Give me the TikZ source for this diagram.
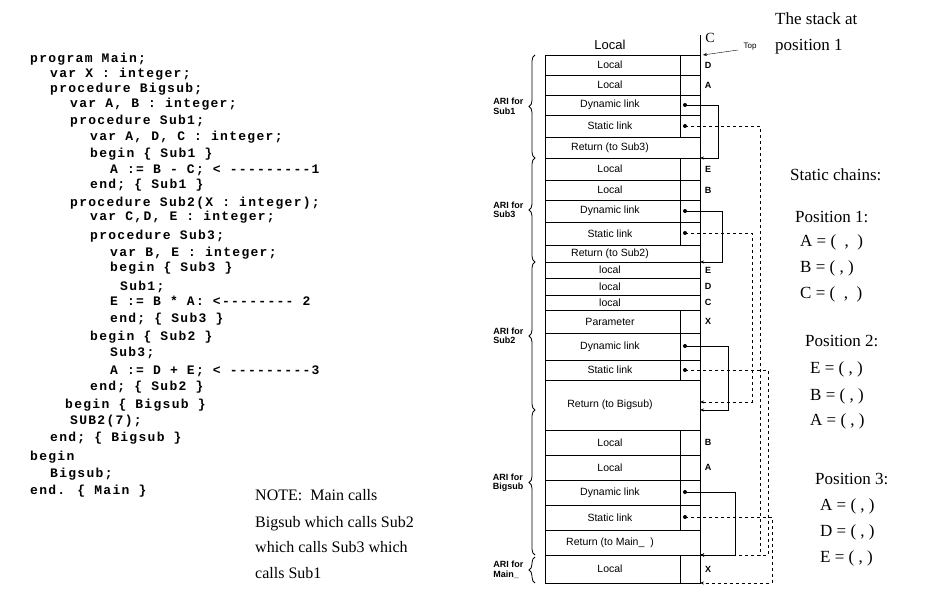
\documentclass[tikz,border=0pt]{standalone}
\usepackage{fontspec}
\setmainfont{Liberation Serif}
\newfontfamily\codefont[LetterSpace=10]{Liberation Mono}
\newfontfamily\stk{Liberation Sans}
\usetikzlibrary{decorations.pathreplacing,arrows.meta}
\begin{document}
\begin{tikzpicture}[x=1pt,y=-1pt,
 code/.style={anchor=base west,inner sep=0,font=\codefont\bfseries\fontsize{13}{13}\selectfont},
 note/.style={anchor=base west,inner sep=0,font=\fontsize{16}{16}\selectfont},
 cell/.style={font=\stk\fontsize{10.5}{10.5}\selectfont},
 var/.style={font=\stk\bfseries\fontsize{9}{9}\selectfont},
 ari/.style={font=\stk\bfseries\fontsize{9}{9.5}\selectfont,align=left},
 postxt/.style={anchor=base west,inner sep=0,font=\fontsize{17}{17}\selectfont},
 dyn/.style={thick,-{Stealth[length=4pt]}},
 stat/.style={thick,dashed,-{Stealth[length=4pt]}},
 brc/.style={decorate,decoration={brace,amplitude=6pt,mirror},thick}]
\useasboundingbox[fill=white] (0,0) rectangle (943,597);
% code
\foreach \x/\y/\t [count=\i] in {30/62/program Main;,50/77/var X : integer;,50/92/procedure Bigsub;,70/107/{var A, B : integer;},70/124/procedure Sub1;,90/140/{var A, D, C : integer;},90/157/{begin \{ Sub1 \}},110/173/{A := B - C; < ---------1},90/188/{end; \{ Sub1 \}},70/206/{procedure Sub2(X : integer);},90/220/{var C,D, E : integer;},90/239/procedure Sub3;,110/256/{var B, E : integer;},110/271/{begin \{ Sub3 \}},120/290/Sub1;,110/305/{E := B * A: <-------- 2},110/322/{end; \{ Sub3 \}},90/340/{begin \{ Sub2 \}},110/356/Sub3;,110/374/{A := D + E; < ---------3},90/390/{end; \{ Sub2 \}},65/408/{begin \{ Bigsub \}},70/424/SUB2(7);,50/441/{end; \{ Bigsub \}},30/460/begin,50/477/Bigsub;,30/494/{end. \{ Main \}}}
  \node[code] (c\i) at (\x,\y) {\t};
\node[note] (n1) at (255,500) {NOTE:\ \ Main calls};
\node[note] (n2) at (255,527) {Bigsub which calls Sub2};
\node[note] (n3) at (255,552) {which calls Sub3 which};
\node[note] (n4) at (255,578) {calls Sub1};
% stack
\def\L{545}\def\R{700}\def\M{680}
\draw[thick] (\L,55) -- (\L,583) -- (\R,583) -- (\R,35);
\node[cell,font=\stk\fontsize{13}{13}\selectfont] (top) at (610,45) {Local};
\foreach \a/\b/\t/\v [count=\i] in {55/75/Local/D,75/95/Local/A,95/115/Dynamic link/,115/137/Static link/,137/158/Return (to Sub3)/,158/180/Local/E,180/200/Local/B,200/222/Dynamic link/,222/245/Static link/,245/262/Return (to Sub2)/,262/278/local/E,278/295/local/D,295/310/local/C,310/333/Parameter/X,333/360/Dynamic link/,360/380/Static link/,380/430/Return (to Bigsub)/,430/455/Local/B,455/480/Local/A,480/505/Dynamic link/,505/530/Static link/,530/555/Return (to Main\_\ \ )/,555/583/Local/X}{
  \draw[thick] (\L,\a) -- (\R,\a);
  \node[cell] (r\i) at (610,{(\a+\b)/2}) {\t};
  \node[var] (v\i) at (708,{(\a+\b)/2}) {\v};
}
\foreach \a/\b in {55/137,158/245,310/380,430/530,555/583} \draw[thick] (\M,\a) -- (\M,\b);
\draw[-{Stealth[length=4pt]}] (738,50) -- (703,55);
\node[font=\stk\fontsize{8}{8}\selectfont] (toplbl) at (750,47) {Top};
\node[font=\fontsize{14}{14}\selectfont] (Cl) at (710,38) {C};
% braces and ARI labels
\foreach \a/\b/\t [count=\i] in {55/158/ARI for\\Sub1,158/262/ARI for\\Sub3,262/410/ARI for\\Sub2,410/555/ARI for\\Bigsub,557/583/ARI for\\Main\_}{
  \draw[brc] (535,\a) -- (535,\b);
  \node[ari,anchor=east] (a\i) at (527,{(\a+\b)/2}) {\t};
}
% dynamic links
\foreach \y/\e/\x in {105/158/718,211/262/722,346/410/728,492/555/735}{
  \fill (685,\y) circle (2pt);
  \draw[dyn] (685,\y) -- (\x,\y) -- (\x,\e) -- (\R,\e);
}
% static links
\foreach \y/\e/\x in {126/555/760,233/402/752,370/555/768,517/583/772}{
  \fill (685,\y) circle (2pt);
  \draw[stat] (685,\y) -- (\x,\y) -- (\x,\e) -- (\R,\e);
}
% right text
\node[postxt] (s1) at (775,24) {The stack at};
\node[postxt] (s2) at (775,50) {position 1};
\node[postxt] (sc) at (790,180) {Static chains:};
\foreach \x/\y/\t [count=\i] in {795/222/Position 1:,800/246/{A = (\ \ ,\ \ )},800/272/{B = (\ ,\ )},800/298/{C = (\ \ ,\ \ )},805/346/Position 2:,810/373/{E = (\ ,\ )},810/400/{B = (\ ,\ )},810/425/{A = (\ ,\ )},815/484/Position 3:,820/510/{A = (\ ,\ )},820/536/{D = (\ ,\ )},820/562/{E = (\ ,\ )}}
  \node[postxt] (p\i) at (\x,\y) {\t};
\end{tikzpicture}
\end{document}
